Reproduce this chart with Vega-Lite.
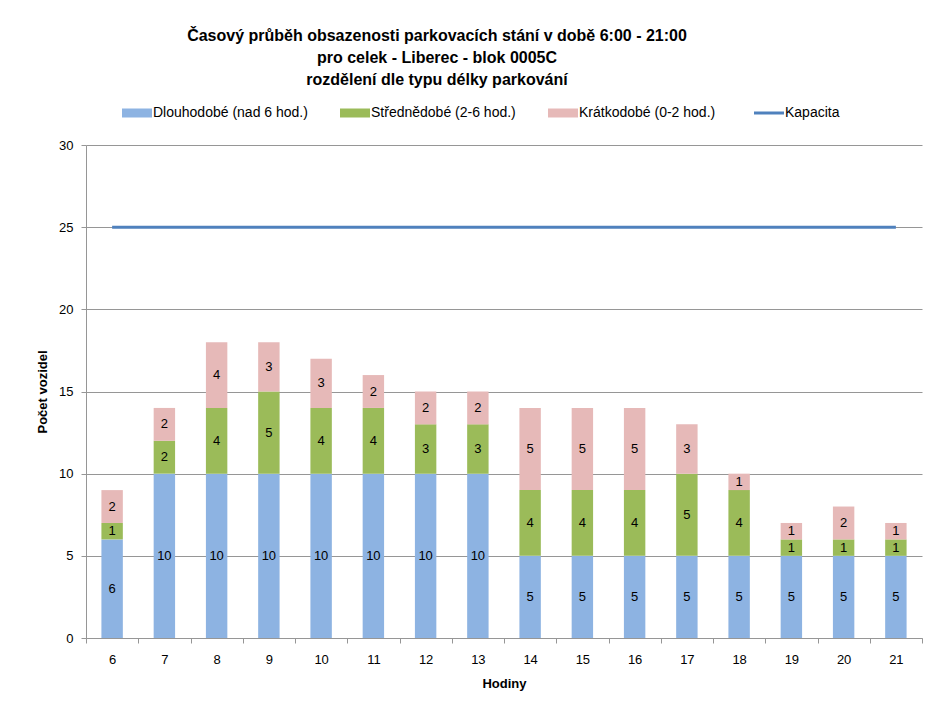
{
  "$schema": "https://vega.github.io/schema/vega-lite/v6.json",
  "width": 836,
  "height": 493,
  "autosize": "none",
  "padding": {"left": 86, "top": 145, "right": 16, "bottom": 68},
  "background": "white",
  "config": {
    "view": {"stroke": null},
    "font": "Liberation Sans",
    "axis": {"labelFont": "Liberation Sans", "titleFont": "Liberation Sans", "labelColor": "#000000", "titleColor": "#000000"}
  },
  "title": {
    "text": ["Časový průběh obsazenosti parkovacích stání v době 6:00 - 21:00", "pro celek - Liberec - blok 0005C", "rozdělení dle typu délky parkování"],
    "anchor": "middle",
    "frame": "group",
    "dx": -67,
    "offset": 18,
    "fontSize": 16,
    "fontWeight": "bold",
    "lineHeight": 22,
    "color": "#000000",
    "font": "Liberation Sans"
  },
  "datasets": {
    "bars": [
      {"hour": 6, "type": "Dlouhodobé (nad 6 hod.)", "ord": 1, "value": 6},
      {"hour": 6, "type": "Střednědobé (2-6 hod.)", "ord": 2, "value": 1},
      {"hour": 6, "type": "Krátkodobé (0-2 hod.)", "ord": 3, "value": 2},
      {"hour": 7, "type": "Dlouhodobé (nad 6 hod.)", "ord": 1, "value": 10},
      {"hour": 7, "type": "Střednědobé (2-6 hod.)", "ord": 2, "value": 2},
      {"hour": 7, "type": "Krátkodobé (0-2 hod.)", "ord": 3, "value": 2},
      {"hour": 8, "type": "Dlouhodobé (nad 6 hod.)", "ord": 1, "value": 10},
      {"hour": 8, "type": "Střednědobé (2-6 hod.)", "ord": 2, "value": 4},
      {"hour": 8, "type": "Krátkodobé (0-2 hod.)", "ord": 3, "value": 4},
      {"hour": 9, "type": "Dlouhodobé (nad 6 hod.)", "ord": 1, "value": 10},
      {"hour": 9, "type": "Střednědobé (2-6 hod.)", "ord": 2, "value": 5},
      {"hour": 9, "type": "Krátkodobé (0-2 hod.)", "ord": 3, "value": 3},
      {"hour": 10, "type": "Dlouhodobé (nad 6 hod.)", "ord": 1, "value": 10},
      {"hour": 10, "type": "Střednědobé (2-6 hod.)", "ord": 2, "value": 4},
      {"hour": 10, "type": "Krátkodobé (0-2 hod.)", "ord": 3, "value": 3},
      {"hour": 11, "type": "Dlouhodobé (nad 6 hod.)", "ord": 1, "value": 10},
      {"hour": 11, "type": "Střednědobé (2-6 hod.)", "ord": 2, "value": 4},
      {"hour": 11, "type": "Krátkodobé (0-2 hod.)", "ord": 3, "value": 2},
      {"hour": 12, "type": "Dlouhodobé (nad 6 hod.)", "ord": 1, "value": 10},
      {"hour": 12, "type": "Střednědobé (2-6 hod.)", "ord": 2, "value": 3},
      {"hour": 12, "type": "Krátkodobé (0-2 hod.)", "ord": 3, "value": 2},
      {"hour": 13, "type": "Dlouhodobé (nad 6 hod.)", "ord": 1, "value": 10},
      {"hour": 13, "type": "Střednědobé (2-6 hod.)", "ord": 2, "value": 3},
      {"hour": 13, "type": "Krátkodobé (0-2 hod.)", "ord": 3, "value": 2},
      {"hour": 14, "type": "Dlouhodobé (nad 6 hod.)", "ord": 1, "value": 5},
      {"hour": 14, "type": "Střednědobé (2-6 hod.)", "ord": 2, "value": 4},
      {"hour": 14, "type": "Krátkodobé (0-2 hod.)", "ord": 3, "value": 5},
      {"hour": 15, "type": "Dlouhodobé (nad 6 hod.)", "ord": 1, "value": 5},
      {"hour": 15, "type": "Střednědobé (2-6 hod.)", "ord": 2, "value": 4},
      {"hour": 15, "type": "Krátkodobé (0-2 hod.)", "ord": 3, "value": 5},
      {"hour": 16, "type": "Dlouhodobé (nad 6 hod.)", "ord": 1, "value": 5},
      {"hour": 16, "type": "Střednědobé (2-6 hod.)", "ord": 2, "value": 4},
      {"hour": 16, "type": "Krátkodobé (0-2 hod.)", "ord": 3, "value": 5},
      {"hour": 17, "type": "Dlouhodobé (nad 6 hod.)", "ord": 1, "value": 5},
      {"hour": 17, "type": "Střednědobé (2-6 hod.)", "ord": 2, "value": 5},
      {"hour": 17, "type": "Krátkodobé (0-2 hod.)", "ord": 3, "value": 3},
      {"hour": 18, "type": "Dlouhodobé (nad 6 hod.)", "ord": 1, "value": 5},
      {"hour": 18, "type": "Střednědobé (2-6 hod.)", "ord": 2, "value": 4},
      {"hour": 18, "type": "Krátkodobé (0-2 hod.)", "ord": 3, "value": 1},
      {"hour": 19, "type": "Dlouhodobé (nad 6 hod.)", "ord": 1, "value": 5},
      {"hour": 19, "type": "Střednědobé (2-6 hod.)", "ord": 2, "value": 1},
      {"hour": 19, "type": "Krátkodobé (0-2 hod.)", "ord": 3, "value": 1},
      {"hour": 20, "type": "Dlouhodobé (nad 6 hod.)", "ord": 1, "value": 5},
      {"hour": 20, "type": "Střednědobé (2-6 hod.)", "ord": 2, "value": 1},
      {"hour": 20, "type": "Krátkodobé (0-2 hod.)", "ord": 3, "value": 2},
      {"hour": 21, "type": "Dlouhodobé (nad 6 hod.)", "ord": 1, "value": 5},
      {"hour": 21, "type": "Střednědobé (2-6 hod.)", "ord": 2, "value": 1},
      {"hour": 21, "type": "Krátkodobé (0-2 hod.)", "ord": 3, "value": 1}
    ],
    "cap": [
      {"hour": 6, "value": 25}, {"hour": 7, "value": 25}, {"hour": 8, "value": 25}, {"hour": 9, "value": 25},
      {"hour": 10, "value": 25}, {"hour": 11, "value": 25}, {"hour": 12, "value": 25}, {"hour": 13, "value": 25},
      {"hour": 14, "value": 25}, {"hour": 15, "value": 25}, {"hour": 16, "value": 25}, {"hour": 17, "value": 25},
      {"hour": 18, "value": 25}, {"hour": 19, "value": 25}, {"hour": 20, "value": 25}, {"hour": 21, "value": 25}
    ]
  },
  "layer": [
    {
      "data": {"name": "bars"},
      "mark": {"type": "bar", "width": {"band": 0.41}},
      "encoding": {
        "x": {
          "field": "hour", "type": "ordinal",
          "scale": {"paddingInner": 0, "paddingOuter": 0},
          "axis": {
            "title": "Hodiny", "titleFontSize": 13, "titleFontWeight": "bold", "titlePadding": 11,
            "labelAngle": 0, "labelFontSize": 13, "labelPadding": 10,
            "tickBand": "extent", "tickSize": 5, "tickColor": "#969696",
            "domainColor": "#969696", "grid": false
          }
        },
        "y": {
          "field": "value", "type": "quantitative", "stack": "zero",
          "scale": {"domain": [0, 30], "nice": false},
          "axis": {
            "title": "Počet vozidel", "titleFontSize": 13, "titleFontWeight": "bold", "titlePadding": 9,
            "values": [0, 5, 10, 15, 20, 25, 30], "labelFontSize": 13, "labelPadding": 8,
            "tickSize": 5, "tickColor": "#969696", "domainColor": "#969696",
            "grid": true, "gridColor": "#969696", "gridWidth": 1
          }
        },
        "color": {
          "field": "type", "type": "nominal",
          "scale": {
            "domain": ["Dlouhodobé (nad 6 hod.)", "Střednědobé (2-6 hod.)", "Krátkodobé (0-2 hod.)", "Kapacita"],
            "range": ["#8db3e2", "#9bbb59", "#e6b9b8", "#4f81bd"]
          },
          "legend": {
            "title": null, "orient": "none", "direction": "horizontal",
            "legendX": 44, "legendY": -39,
            "labelFontSize": 14, "labelColor": "#000000", "labelOffset": 9,
            "columnPadding": 32, "symbolSize": 900,
            "encode": {
              "symbols": {
                "update": {
                  "shape": {"signal": "datum.label === 'Kapacita' ? 'M-1,0H1' : 'M-1,-0.3H1V0.3H-1Z'"},
                  "stroke": {"signal": "scale('color', datum.value)"},
                  "fill": {"signal": "scale('color', datum.value)"},
                  "fillOpacity": {"value": 1},
                  "strokeWidth": {"signal": "datum.label === 'Kapacita' ? 3 : 0"}
                }
              }
            }
          }
        },
        "order": {"field": "ord", "type": "quantitative"}
      }
    },
    {
      "data": {"name": "bars"},
      "transform": [
        {"stack": "value", "groupby": ["hour"], "sort": [{"field": "ord", "order": "ascending"}], "as": ["y0", "y1"]},
        {"calculate": "(datum.y0 + datum.y1) / 2", "as": "mid"}
      ],
      "mark": {"type": "text", "fontSize": 13, "color": "#000000", "baseline": "middle", "align": "center"},
      "encoding": {
        "x": {"field": "hour", "type": "ordinal"},
        "y": {"field": "mid", "type": "quantitative"},
        "text": {"field": "value", "type": "quantitative"}
      }
    },
    {
      "data": {"name": "cap"},
      "mark": {"type": "line", "strokeWidth": 3},
      "encoding": {
        "x": {"field": "hour", "type": "ordinal"},
        "y": {"field": "value", "type": "quantitative"},
        "color": {"datum": "Kapacita"}
      }
    }
  ]
}
